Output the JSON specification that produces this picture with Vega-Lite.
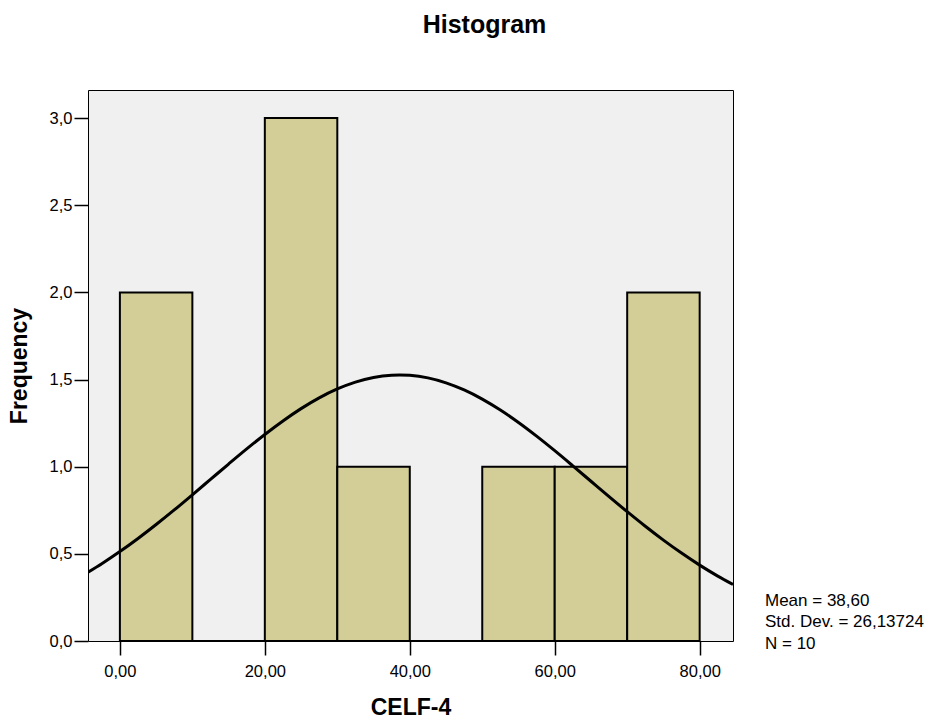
{
  "$schema": "https://vega.github.io/schema/vega-lite/v6.json",
  "autosize": "none",
  "width": 645,
  "height": 551,
  "padding": {"left": 88, "top": 90, "right": 197, "bottom": 79},
  "background": "white",
  "view": {"fill": "#F0F0F0", "stroke": "black", "strokeWidth": 1},
  "title": {
    "text": "Histogram",
    "font": "Liberation Sans",
    "fontSize": 25,
    "fontWeight": "bold",
    "color": "black",
    "anchor": "middle",
    "dx": 74,
    "offset": 52
  },
  "config": {
    "locale": {"number": {"decimal": ",", "thousands": ".", "grouping": [3], "currency": ["", ""]}}
  },
  "datasets": {
    "bins": [
      {"start": 0, "end": 10, "count": 2},
      {"start": 10, "end": 20, "count": 0},
      {"start": 20, "end": 30, "count": 3},
      {"start": 30, "end": 40, "count": 1},
      {"start": 40, "end": 50, "count": 0},
      {"start": 50, "end": 60, "count": 1},
      {"start": 60, "end": 70, "count": 1},
      {"start": 70, "end": 80, "count": 2}
    ],
    "normal": [
      {"x": -4.4, "y": 0.3944},
      {"x": -2.5, "y": 0.4433},
      {"x": 0, "y": 0.5129},
      {"x": 2.5, "y": 0.588},
      {"x": 5, "y": 0.6681},
      {"x": 7.5, "y": 0.7519},
      {"x": 10, "y": 0.8388},
      {"x": 12.5, "y": 0.9271},
      {"x": 15, "y": 1.0153},
      {"x": 17.5, "y": 1.1019},
      {"x": 20, "y": 1.1849},
      {"x": 22.5, "y": 1.2625},
      {"x": 25, "y": 1.3331},
      {"x": 27.5, "y": 1.3947},
      {"x": 30, "y": 1.4459},
      {"x": 32.5, "y": 1.4853},
      {"x": 35, "y": 1.5119},
      {"x": 37.5, "y": 1.5249},
      {"x": 38.6, "y": 1.5263},
      {"x": 40, "y": 1.5241},
      {"x": 42.5, "y": 1.5094},
      {"x": 45, "y": 1.4812},
      {"x": 47.5, "y": 1.4403},
      {"x": 50, "y": 1.3878},
      {"x": 52.5, "y": 1.325},
      {"x": 55, "y": 1.2536},
      {"x": 57.5, "y": 1.1752},
      {"x": 60, "y": 1.0917},
      {"x": 62.5, "y": 1.0048},
      {"x": 65, "y": 0.9164},
      {"x": 67.5, "y": 0.8282},
      {"x": 70, "y": 0.7418},
      {"x": 72.5, "y": 0.6582},
      {"x": 75, "y": 0.5787},
      {"x": 77.5, "y": 0.5043},
      {"x": 80, "y": 0.4353},
      {"x": 82.5, "y": 0.3724},
      {"x": 84.6, "y": 0.3244}
    ],
    "stats": [
      {"stat": "Mean = 38,60"},
      {"stat": "Std. Dev. = 26,13724"},
      {"stat": "N = 10"}
    ]
  },
  "layer": [
    {
      "data": {"name": "bins"},
      "mark": {"type": "rect", "fill": "#D3CE97", "stroke": "black", "strokeWidth": 2},
      "encoding": {
        "x": {
          "field": "start",
          "type": "quantitative",
          "scale": {"domain": [-4.4, 84.6], "nice": false, "zero": false},
          "axis": {
            "values": [0, 20, 40, 60, 80],
            "format": ".2f",
            "domain": false,
            "grid": false,
            "tickColor": "black",
            "tickWidth": 1.5,
            "tickSize": 14,
            "labelFont": "Liberation Sans",
            "labelFontSize": 16.5,
            "labelColor": "black",
            "labelPadding": 8,
            "title": "CELF-4",
            "titleFont": "Liberation Sans",
            "titleFontSize": 23,
            "titleFontWeight": "bold",
            "titleColor": "black",
            "titleBaseline": "middle",
            "titleY": 66
          }
        },
        "x2": {"field": "end"},
        "y": {
          "field": "count",
          "type": "quantitative",
          "scale": {"domain": [0, 3.161], "nice": false},
          "axis": {
            "values": [0, 0.5, 1, 1.5, 2, 2.5, 3],
            "format": ".1f",
            "domain": false,
            "grid": false,
            "tickColor": "black",
            "tickWidth": 1.5,
            "tickSize": 14,
            "labelFont": "Liberation Sans",
            "labelFontSize": 16.5,
            "labelColor": "black",
            "labelPadding": 2,
            "title": "Frequency",
            "titleFont": "Liberation Sans",
            "titleFontSize": 23,
            "titleFontWeight": "bold",
            "titleColor": "black",
            "titleBaseline": "middle",
            "titleX": -69
          }
        },
        "y2": {"datum": 0}
      }
    },
    {
      "data": {"name": "normal"},
      "mark": {"type": "line", "color": "black", "strokeWidth": 3, "interpolate": "monotone", "clip": true},
      "encoding": {
        "x": {"field": "x", "type": "quantitative"},
        "y": {"field": "y", "type": "quantitative"}
      }
    },
    {
      "data": {"name": "stats"},
      "mark": {"type": "point", "opacity": 0},
      "encoding": {
        "color": {
          "field": "stat",
          "type": "nominal",
          "sort": null,
          "scale": {"range": ["black", "black", "black"]},
          "legend": {
            "title": null,
            "orient": "none",
            "legendX": 660,
            "legendY": 502,
            "padding": 0,
            "symbolSize": 0,
            "symbolOpacity": 0,
            "symbolStrokeWidth": 0,
            "labelOffset": 0,
            "labelLimit": 400,
            "labelFont": "Liberation Sans",
            "labelFontSize": 17,
            "labelColor": "black",
            "rowPadding": 3.5
          }
        }
      }
    }
  ]
}
